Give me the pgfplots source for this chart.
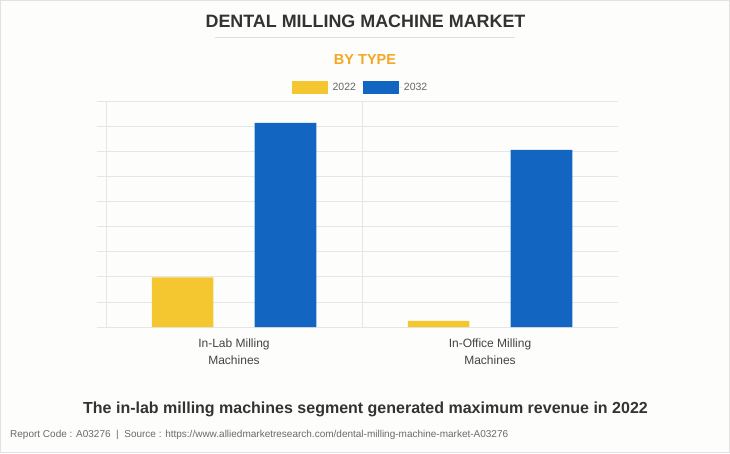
\documentclass[border=0pt]{standalone}
\usepackage{pgfplots}
\pgfplotsset{compat=1.18}
\usepackage{fontspec}
\setmainfont{Liberation Sans}

\definecolor{bgc}{HTML}{FDFDFC}
\definecolor{framec}{HTML}{E2E2E2}
\definecolor{gridc}{HTML}{E6E6E6}
\definecolor{yel}{HTML}{F4C730}
\definecolor{blu}{HTML}{1265C0}
\definecolor{orng}{HTML}{F5A623}
\definecolor{titlec}{HTML}{333333}
\definecolor{labc}{HTML}{444444}
\definecolor{legc}{HTML}{666666}
\definecolor{footc}{HTML}{6A6A6A}

\begin{document}
\begin{tikzpicture}
% page frame
\path[fill=bgc, draw=framec, line width=1pt] (0.5pt,0.5pt) rectangle (729.5pt,452.5pt);

% headings
\node[anchor=base, text=titlec, font=\fontsize{17.9pt}{20pt}\selectfont\bfseries, inner sep=0pt]
  at (365.5pt,425.3pt) {DENTAL MILLING MACHINE MARKET};
\draw[framec!90!black!60, line width=0.8pt] (215pt,415.7pt) -- (515pt,415.7pt);
\node[anchor=base, text=orng, font=\fontsize{14.5pt}{17pt}\selectfont\bfseries, inner sep=0pt]
  at (365pt,388.7pt) {BY TYPE};

\begin{axis}[
  scale only axis,
  width=512pt, height=225.6pt,
  at={(106pt,126pt)}, anchor=south west,
  xmin=-0.5, xmax=1.5,
  ymin=0, ymax=9,
  axis line style={draw=none},
  ytick={0,1,...,9},
  yticklabels={},
  ytick pos=left,
  xtick pos=bottom,
  ymajorgrids,
  grid style={gridc, line width=0.8pt},
  ytick style={draw=gridc, line width=0.8pt},
  tick align=outside,
  major tick length=9pt,
  xtick={0,1},
  xticklabels={In-Lab Milling\\Machines, In-Office Milling\\Machines},
  xtick style={draw=none},
  xticklabel style={align=center, text=labc, font=\fontsize{12pt}{17.6pt}\selectfont, yshift=1pt},
  extra x ticks={-0.5,0.5},
  extra x tick labels={},
  extra x tick style={grid=major, xtick pos=bottom, tick style={draw=gridc, line width=0.8pt}, major tick length=8pt},
  legend columns=2,
  legend style={draw=none, fill=none, at={(0.497,1.0616)}, anchor=center,
    font=\fontsize{10.5pt}{13pt}\selectfont, text=legc,
    /tikz/every even column/.append style={column sep=5pt}},
  legend image code/.code={\path[#1, draw=none] (0pt,-6.5pt) rectangle (36pt,6.5pt);
    \path (0pt,0pt) -- (39pt,0pt);},
]
\addplot[ybar, bar width=61.7pt, bar shift=-51.4pt, fill=yel, draw=none]
  coordinates {(0,1.98) (1,0.24)};
\addplot[ybar, bar width=61.7pt, bar shift=51.4pt, fill=blu, draw=none]
  coordinates {(0,8.14) (1,7.07)};
\legend{2022,2032}
\end{axis}

% caption and footer
\node[anchor=base, text=titlec, font=\fontsize{16pt}{19pt}\selectfont\bfseries, inner sep=0pt]
  at (365.5pt,39.7pt) {The in-lab milling machines segment generated maximum revenue in 2022};
\node[anchor=base west, text=footc, font=\fontsize{10pt}{12pt}\selectfont, inner sep=0pt]
  at (10pt,15.7pt) {Report Code : A03276~~|~~Source : https://www.alliedmarketresearch.com/dental-milling-machine-market-A03276};
\end{tikzpicture}
\end{document}
